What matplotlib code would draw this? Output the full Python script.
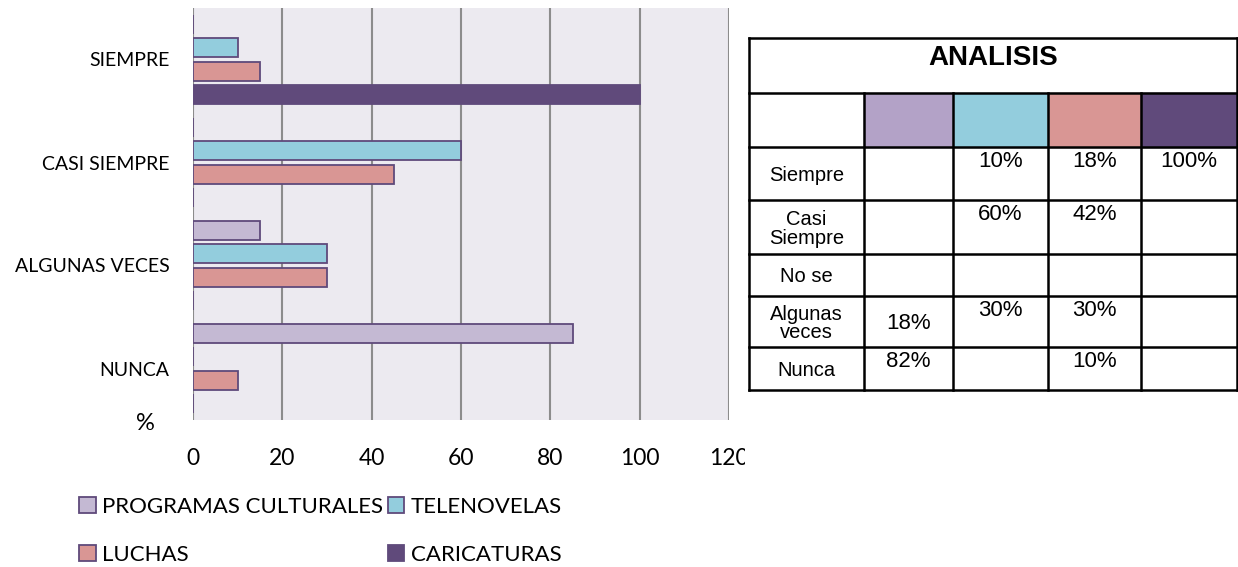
import numpy as np
import matplotlib.pyplot as plt
from matplotlib.patches import Patch

# Data
categories = ['SIEMPRE', 'CASI SIEMPRE', 'ALGUNAS VECES', 'NUNCA']
series = ['PROGRAMAS CULTURALES', 'TELENOVELAS', 'LUCHAS', 'CARICATURAS']
prog = [0, 0, 15, 85]
tele = [10, 60, 30, 0]
luchas = [15, 45, 30, 10]
cari = [100, 0, 0, 0]
bar_colors = ['#c4b9d3', '#93cddd', '#d99694', '#604a7b']
edge = '#5f4a7b'

# Table on the right
tab_rows = ['Siempre', 'Casi\nSiempre', 'No se', 'Algunas\nveces', 'Nunca']
tab_vals = [['', '10%', '18%', '100%'],
            ['', '60%', '42%', ''],
            ['', '', '', ''],
            ['18%', '30%', '30%', ''],
            ['82%', '', '10%', '']]
tab_colors = ['#b3a2c7', '#93cddd', '#d99694', '#604a7b']

W, H = 1238, 567
fig = plt.figure(figsize=(W / 100, H / 100), dpi=100)
chart_font = 'Lato'
table_font = 'Liberation Sans'

# chart axes (pixel box 193..729 x, 8..420 y)
ax = fig.add_axes([193 / W, 1 - 420 / H, (729 - 193) / W, (420 - 8) / H])
ax.set_facecolor('#eceaf0')
y = np.arange(len(categories))
step = 0.228
h = 0.185
for i, vals in enumerate([prog, tele, luchas, cari]):
    ax.barh(y + (i - 1.5) * step, vals, height=h, color=bar_colors[i],
            edgecolor=edge, linewidth=1.3, zorder=3)
ax.set_ylim(3.5, -0.5)
ax.set_xlim(0, 120)
ax.set_xticks(range(0, 121, 20))
ax.set_yticks(y)
ax.set_yticklabels(categories, fontsize=14, family=chart_font)
for t in ax.get_xticklabels():
    t.set_fontsize(16.5)
    t.set_family(chart_font)
ax.grid(axis='x', color='#8c8c8c', linewidth=1.5, zorder=1)
ax.tick_params(length=0)
ax.tick_params(axis='x', pad=20)
ax.tick_params(axis='y', pad=17)
for s in ax.spines.values():
    s.set_visible(False)

fig.text(145 / W, 1 - 423 / H, '%', fontsize=17, family=chart_font,
         ha='center', va='center')

handles = [Patch(facecolor=bar_colors[k], edgecolor=edge, linewidth=1.3, label=series[k])
           for k in [0, 2, 1, 3]]
fig.legend(handles=handles, loc='upper left', bbox_to_anchor=(70 / W, 1 - 488 / H),
           ncol=2, frameon=False, prop={'family': chart_font, 'size': 16},
           handlelength=0.75, handleheight=0.75, handletextpad=0.3,
           columnspacing=0.2, labelspacing=1.25, borderaxespad=0)

# table drawn in pixel space
tx = fig.add_axes([745 / W, 0, (W - 745) / W, 1], zorder=5)
tx.set_xlim(745, W)
tx.set_ylim(H, 0)
tx.axis('off')
tx.add_patch(plt.Rectangle((745, 0), W - 745, H, color='white', zorder=0))
col_x = [749, 864, 953, 1048, 1141, 1237]
row_y = [38, 93, 147, 200, 254, 296, 347, 390]
for j in range(4):
    tx.add_patch(plt.Rectangle((col_x[j + 1], row_y[1]), col_x[j + 2] - col_x[j + 1],
                               row_y[2] - row_y[1], color=tab_colors[j], zorder=1))
lw = 1.8
for yy in row_y:
    tx.plot([col_x[0], col_x[-1]], [yy, yy], color='black', lw=lw, zorder=2)
tx.plot([col_x[0]] * 2, [row_y[0], row_y[-1]], color='black', lw=lw, zorder=2)
tx.plot([col_x[-1]] * 2, [row_y[0], row_y[-1]], color='black', lw=lw, zorder=2)
for xx in col_x[1:-1]:
    tx.plot([xx, xx], [row_y[1], row_y[-1]], color='black', lw=lw, zorder=2)
tx.text((col_x[0] + col_x[-1]) / 2, 58, 'ANALISIS', fontsize=20, weight='bold',
        family=table_font, ha='center', va='center')
for r, name in enumerate(tab_rows):
    top, bot = row_y[r + 2], row_y[r + 3]
    tx.text((col_x[0] + col_x[1]) / 2, (top + bot) / 2 + 2, name, fontsize=14.5,
            family=table_font, ha='center', va='center', linespacing=0.95)
    for j, v in enumerate(tab_vals[r]):
        if not v:
            continue
        cx = (col_x[j + 1] + col_x[j + 2]) / 2
        if r == 3 and j == 0:
            tx.text(cx, (top + bot) / 2 + 2, v, fontsize=16, family=table_font,
                    ha='center', va='center')
        else:
            tx.text(cx, top + 4, v, fontsize=16, family=table_font,
                    ha='center', va='top')

fig.savefig('out.png', dpi=100)
